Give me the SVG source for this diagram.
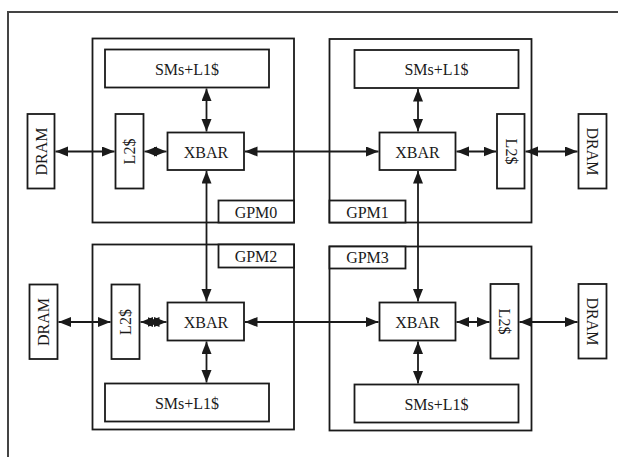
<svg xmlns="http://www.w3.org/2000/svg" width="618" height="457" viewBox="0 0 618 457">
  <style>
    .box { fill: #fff; stroke: #1a1a1a; stroke-width: 1.8; }
    .frame { fill: none; stroke: #444; stroke-width: 2; }
    .lbl { font-family: "Liberation Serif", "Times New Roman", serif; font-size: 16px; fill: #1a1a1a; text-anchor: middle; dominant-baseline: central; }
    .conn { fill: none; stroke: #1a1a1a; stroke-width: 1.8; marker-start: url(#ah); marker-end: url(#ah); }
  </style>
  <defs>
    <marker id="ah" markerUnits="userSpaceOnUse" markerWidth="14" markerHeight="11" refX="12.5" refY="5" orient="auto-start-reverse">
      <path d="M0,0 L12.5,5 L0,10 z" fill="#1a1a1a"/>
    </marker>
  </defs>

  <rect width="618" height="457" fill="#fff"/>

  <!-- outer frame (top and left edges) -->
  <path class="frame" d="M8,457 V12 H618"/>

  <!-- GPM0 -->
  <g id="gpm0">
    <rect class="box" x="92.5" y="38.5" width="201.5" height="184"/>
    <rect class="box" x="218.5" y="200.5" width="75.5" height="22"/>
    <text class="lbl" x="256" y="212">GPM0</text>
  </g>
  <g id="gpm0-sm">
    <rect class="box" x="105" y="49.5" width="164" height="38"/>
    <text class="lbl" x="187" y="69">SMs+L1$</text>
  </g>
  <g id="gpm0-xbar">
    <rect class="box" x="167.5" y="132.5" width="76.5" height="37.5"/>
    <text class="lbl" x="206" y="152">XBAR</text>
  </g>
  <g id="gpm0-l2">
    <rect class="box" x="115.5" y="114" width="28" height="74.5"/>
    <text class="lbl" transform="translate(129.5,151.5) rotate(-90)" x="0" y="0">L2$</text>
  </g>
  <g id="dram0">
    <rect class="box" x="27.5" y="114" width="27" height="74.5"/>
    <text class="lbl" transform="translate(41,151.5) rotate(-90)" x="0" y="0">DRAM</text>
  </g>

  <!-- GPM1 -->
  <g id="gpm1">
    <rect class="box" x="329.5" y="39" width="202" height="183.5"/>
    <rect class="box" x="329.5" y="200.5" width="76" height="22"/>
    <text class="lbl" x="367.5" y="212">GPM1</text>
  </g>
  <g id="gpm1-sm">
    <rect class="box" x="354.5" y="50" width="164" height="38"/>
    <text class="lbl" x="436.5" y="69.5">SMs+L1$</text>
  </g>
  <g id="gpm1-xbar">
    <rect class="box" x="379.5" y="132.5" width="76" height="37.5"/>
    <text class="lbl" x="417.5" y="152">XBAR</text>
  </g>
  <g id="gpm1-l2">
    <rect class="box" x="497" y="114" width="27.5" height="74.5"/>
    <text class="lbl" transform="translate(511,151.5) rotate(90)" x="0" y="0">L2$</text>
  </g>
  <g id="dram1">
    <rect class="box" x="578.5" y="114" width="28" height="74.5"/>
    <text class="lbl" transform="translate(592.5,151.5) rotate(90)" x="0" y="0">DRAM</text>
  </g>

  <!-- GPM2 -->
  <g id="gpm2">
    <rect class="box" x="92.5" y="244.5" width="201.5" height="185"/>
    <rect class="box" x="218.5" y="244.5" width="75.5" height="23"/>
    <text class="lbl" x="256" y="256">GPM2</text>
  </g>
  <g id="gpm2-sm">
    <rect class="box" x="105" y="383.5" width="164" height="38"/>
    <text class="lbl" x="187" y="403">SMs+L1$</text>
  </g>
  <g id="gpm2-xbar">
    <rect class="box" x="167.5" y="302.5" width="76.5" height="38"/>
    <text class="lbl" x="206" y="322">XBAR</text>
  </g>
  <g id="gpm2-l2">
    <rect class="box" x="111.5" y="284.5" width="28" height="74.5"/>
    <text class="lbl" transform="translate(125.5,322) rotate(-90)" x="0" y="0">L2$</text>
  </g>
  <g id="dram2">
    <rect class="box" x="29.5" y="284.5" width="28" height="74.5"/>
    <text class="lbl" transform="translate(43.5,322) rotate(-90)" x="0" y="0">DRAM</text>
  </g>

  <!-- GPM3 -->
  <g id="gpm3">
    <rect class="box" x="329.5" y="246.5" width="202" height="184"/>
    <rect class="box" x="329.5" y="246.5" width="76" height="22"/>
    <text class="lbl" x="367.5" y="257.5">GPM3</text>
  </g>
  <g id="gpm3-sm">
    <rect class="box" x="354.5" y="384.5" width="164" height="38"/>
    <text class="lbl" x="436.5" y="404">SMs+L1$</text>
  </g>
  <g id="gpm3-xbar">
    <rect class="box" x="379.5" y="302.5" width="76" height="38"/>
    <text class="lbl" x="417.5" y="322">XBAR</text>
  </g>
  <g id="gpm3-l2">
    <rect class="box" x="490.5" y="284" width="28" height="74.5"/>
    <text class="lbl" transform="translate(504.5,321.5) rotate(90)" x="0" y="0">L2$</text>
  </g>
  <g id="dram3">
    <rect class="box" x="578.5" y="284" width="28" height="74.5"/>
    <text class="lbl" transform="translate(592.5,321.5) rotate(90)" x="0" y="0">DRAM</text>
  </g>

  <!-- connectors -->
  <g id="connectors">
    <!-- GPM0 -->
    <line class="conn" x1="55.5" y1="151.5" x2="114.5" y2="151.5"/>
    <line class="conn" x1="144.5" y1="151.5" x2="166.5" y2="151.5"/>
    <line class="conn" x1="206.5" y1="88.5" x2="206.5" y2="131.5"/>
    <!-- GPM1 -->
    <line class="conn" x1="418" y1="89" x2="418" y2="131.5"/>
    <line class="conn" x1="456.5" y1="151.5" x2="496" y2="151.5"/>
    <line class="conn" x1="525.5" y1="151.5" x2="577.5" y2="151.5"/>
    <!-- GPM2: doubled heads on the short L2$/XBAR link -->
    <line class="conn" x1="58.5" y1="322" x2="110.5" y2="322"/>
    <line class="conn" x1="140.5" y1="322" x2="166.5" y2="322"/>
    <line class="conn" x1="147" y1="322" x2="160" y2="322"/>
    <line class="conn" x1="206.5" y1="341.5" x2="206.5" y2="382.5"/>
    <!-- GPM3 -->
    <line class="conn" x1="456.5" y1="322" x2="489.5" y2="322"/>
    <line class="conn" x1="519.5" y1="322" x2="577.5" y2="322"/>
    <line class="conn" x1="418" y1="341.5" x2="418" y2="383.5"/>
    <!-- XBAR to XBAR links -->
    <line class="conn" x1="245" y1="151.5" x2="378.5" y2="151.5"/>
    <line class="conn" x1="245" y1="322" x2="378.5" y2="322"/>
    <line class="conn" x1="206.5" y1="171" x2="206.5" y2="301.5"/>
    <line class="conn" x1="418" y1="171" x2="418" y2="301.5"/>
  </g>
</svg>
